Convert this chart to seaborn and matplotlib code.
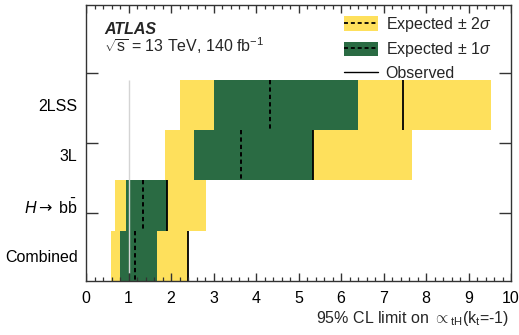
import numpy as np
import pandas as pd
import matplotlib
matplotlib.use('Agg')
import matplotlib.pyplot as plt
import seaborn as sns
from matplotlib.patches import Patch
from matplotlib.lines import Line2D
from matplotlib.ticker import FixedLocator, NullFormatter

# ---- data ----
categories = ['2LSS', '3L', r'$H\mathsf{\rightarrow}$ b$\bar{\mathrm{b}}$', 'Combined']
observed = [7.45, 5.33, 1.91, 2.41]
expected = [4.33, 3.64, 1.33, 1.16]
minus1 = [3.01, 2.54, 0.93, 0.81]
plus1 = [6.39, 5.34, 1.91, 1.67]
minus2 = [2.21, 1.85, 0.68, 0.59]
plus2 = [9.54, 7.67, 2.82, 2.39]
x_ticks = [0, 1, 2, 3, 4, 5, 6, 7, 8, 9, 10]
legend_labels = [r'Expected $\pm$ 2$\sigma$', r'Expected $\pm$ 1$\sigma$', 'Observed']

sns.set_theme(style='ticks')
plt.rcParams['font.family'] = ['Liberation Sans', 'DejaVu Sans']
plt.rcParams['mathtext.fontset'] = 'custom'
plt.rcParams['mathtext.rm'] = 'Liberation Sans'
plt.rcParams['mathtext.it'] = 'Liberation Sans:italic'
plt.rcParams['mathtext.bf'] = 'Liberation Sans:bold'
plt.rcParams['mathtext.sf'] = 'DejaVu Sans'

FS = 11.5
YEL = '#fee05c'
GRN = '#2a6b43'
SPINE = '#333333'
RECT = [86 / 519, 54 / 335, 425 / 519, 276.5 / 335]
YLIM = (3.5, -2.0)

df = pd.DataFrame({
    'category': categories,
    'minus2': minus2, 'minus1': minus1, 'plus1': plus1, 'plus2': plus2,
})

fig = plt.figure(figsize=(5.19, 3.35), dpi=100)
ax = fig.add_axes(RECT)

for col, c in [('plus2', YEL), ('plus1', GRN), ('minus1', YEL), ('minus2', 'white')]:
    sns.barplot(data=df, x=col, y='category', orient='h', order=categories,
                color=c, width=1.0, saturation=1, errorbar=None,
                edgecolor='none', linewidth=0, ax=ax, zorder=1)

ypos = np.arange(len(categories))
ax.vlines(1.0, -0.5, 3.34, color='#d4d4d4', lw=1.0, zorder=3)
ax.vlines(expected, ypos - 0.5, ypos + 0.5, colors='black', lw=1.4,
          linestyles=(0, (2.2, 1.6)), zorder=4)
ax.vlines(observed, ypos - 0.5, ypos + 0.5, colors='black', lw=1.3, zorder=4)

ax.set_xlim(0, 10)
ax.set_ylim(*YLIM)
ax.set_xlabel('')
ax.set_ylabel('')
ax.set_xticks(x_ticks)
ax.set_xticklabels([str(t) for t in x_ticks], fontsize=FS)
ax.set_yticks(ypos)
ax.set_yticklabels(categories, fontsize=FS)
ax.tick_params(axis='x', which='both', length=0, pad=7.5, labelcolor='black')
ax.tick_params(axis='y', which='both', length=0, pad=6, labelcolor='black')
for s in ax.spines.values():
    s.set_visible(False)

# overlay axes carrying the frame and the inward ticks
ov = fig.add_axes(RECT)
ov.patch.set_alpha(0)
ov.set_xlim(0, 10)
ov.set_ylim(0, 1)
ov.set_xticks([])
ov.set_yticks([])
ov.yaxis.set_minor_locator(FixedLocator([0.246, 0.499, 0.752]))
ov.yaxis.set_minor_formatter(NullFormatter())
ov.tick_params(axis='y', which='minor', direction='in', length=8.6, width=1.0,
               color=SPINE, left=True, right=True)
for s in ov.spines.values():
    s.set_visible(True)
    s.set_color(SPINE)
    s.set_linewidth(1.0)

# inward x tick marks (major every 1, minor every 0.2) on bottom and top edges
tick_pos = np.round(np.arange(0, 10.0001, 0.2), 6)
is_major = np.isclose(tick_pos, np.round(tick_pos))
major_len = 8.0 / 276.5
minor_len = 4.0 / 276.5
xt = ov.get_xaxis_transform()
ov.vlines(tick_pos[is_major], 0, major_len, transform=xt, color=SPINE, lw=1.0, zorder=6)
ov.vlines(tick_pos[~is_major], 0, minor_len, transform=xt, color=SPINE, lw=0.9, zorder=6)
ov.vlines(tick_pos[is_major], 1 - major_len, 1, transform=xt, color=SPINE, lw=1.0, zorder=6)
ov.vlines(tick_pos[~is_major], 1 - minor_len, 1, transform=xt, color=SPINE, lw=0.9, zorder=6)
ov.set_xlim(0, 10)
ov.set_ylim(0, 1)

h2 = (Patch(facecolor=YEL, edgecolor='none'), Line2D([], [], color='black', lw=1.3, ls=(0, (2.2, 1.6))))
h1 = (Patch(facecolor=GRN, edgecolor='none'), Line2D([], [], color='black', lw=1.3, ls=(0, (2.2, 1.6))))
ho = Line2D([], [], color='black', lw=1.0)
ov.legend([h2, h1, ho], legend_labels, loc='upper left',
          bbox_to_anchor=(344 / 519, 1 - 15 / 335), bbox_transform=fig.transFigure,
          frameon=False, fontsize=FS, handlelength=2.1, handleheight=1.0,
          handletextpad=0.5, labelspacing=0.4, borderpad=0, borderaxespad=0)

fig.text(104 / 519, 1 - 29 / 335, 'ATLAS', fontsize=FS, fontweight='bold',
         fontstyle='italic', va='center', ha='left')
fig.text(104 / 519, 1 - 46 / 335, r'$\sqrt{\mathrm{s}}$ = 13 TeV, 140 fb$^{-1}$',
         fontsize=FS, va='center', ha='left')
fig.text(509 / 519, 1 - 318 / 335,
         r'95% CL limit on $\propto_{\mathrm{tH}}$(k$_{\mathrm{t}}$=-1)',
         fontsize=FS, va='center', ha='right')

fig.savefig('out.png', dpi=100)
